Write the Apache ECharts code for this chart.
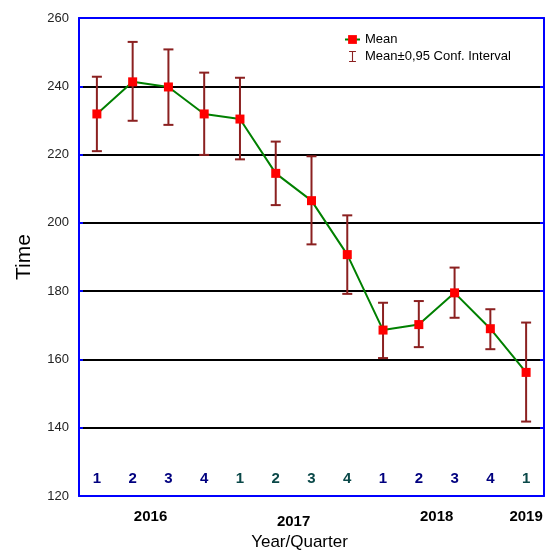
<!DOCTYPE html>
<html><head><meta charset="utf-8">
<script src="https://cdn.jsdelivr.net/npm/echarts@6/dist/echarts.min.js"></script>
<style>html,body{margin:0;padding:0;background:#fff}#c{width:547px;height:556px}</style>
</head><body><div id="c"></div>
<script>
var quarters = ['1','2','3','4','1','2','3','4','1','2','3','4','1'];
var quarterYear = ['2016','2016','2016','2016','2017','2017','2017','2017','2018','2018','2018','2018','2019'];
var means = [231.9, 241.3, 239.8, 231.9, 230.4, 214.5, 206.5, 190.7, 168.6, 170.2, 179.5, 169.0, 156.2];
var upper = [242.8, 253.0, 250.8, 244.0, 242.5, 223.8, 219.5, 202.2, 176.6, 177.1, 186.9, 174.7, 170.8];
var lower = [221.0, 229.9, 228.7, 219.9, 218.6, 205.2, 193.7, 179.2, 160.4, 163.6, 172.2, 163.0, 141.8];
var yearLabels = ['2016', '2017', '2018', '2019'];
var yearPositions = [1.5, 5.5, 9.5, 12];
var yTicks = [120, 140, 160, 180, 200, 220, 240, 260];

var FONT = 'Liberation Sans, Arial, sans-serif';
var BLUE = '#0000ff';
var ERR = '#8b2020';

var chart = echarts.init(document.getElementById('c'), null, {renderer: 'canvas'});
var errData = means.map(function (m, i) { return [i, lower[i], upper[i]]; });

chart.setOption({
  animation: false,
  grid: {left: 79, right: 3, top: 18, bottom: 55, containLabel: false},
  legend: {
    orient: 'vertical', left: 339, top: 28, itemGap: 4,
    itemWidth: 15, itemHeight: 11,
    textStyle: {fontFamily: FONT, fontSize: 13, color: '#000'},
    data: [
      {name: 'Mean'},
      {name: 'Mean\u00b10,95 Conf. Interval',
       icon: 'path://M0,0H10V1.6H5.8V14.4H10V16H0V14.4H4.2V1.6H0Z',
       itemStyle: {color: ERR}}
    ]
  },
  xAxis: [
    {
      type: 'category', data: quarters, position: 'bottom', boundaryGap: true,
      axisLine: {onZero: false, lineStyle: {color: BLUE, width: 2}},
      axisTick: {inside: true, alignWithLabel: true, interval: 0, length: 4, lineStyle: {color: BLUE, width: 2}},
      axisLabel: {
        inside: true, interval: 0, margin: 10, fontFamily: FONT, fontSize: 15, fontWeight: 'bold',
        formatter: function (v, i) { return (quarterYear[i] === '2016' || quarterYear[i] === '2018') ? '{a|' + v + '}' : '{b|' + v + '}'; },
        rich: {
          a: {color: '#00007f', fontFamily: FONT, fontSize: 15, fontWeight: 'bold'},
          b: {color: '#0a4848', fontFamily: FONT, fontSize: 15, fontWeight: 'bold'}
        }
      },
      splitLine: {show: false}
    },
    {
      type: 'category', data: quarters, position: 'top', boundaryGap: true,
      axisLine: {onZero: false, lineStyle: {color: BLUE, width: 2}},
      axisTick: {inside: true, alignWithLabel: true, interval: 0, length: 4, lineStyle: {color: BLUE, width: 2}},
      axisLabel: {show: false}, splitLine: {show: false}
    },
    {
      type: 'value', position: 'bottom', min: -0.5, max: 12.5, interval: 0.5,
      axisLine: {show: false, onZero: false}, axisTick: {show: false}, splitLine: {show: false},
      axisLabel: {
        margin: 13, fontFamily: FONT, fontSize: 15, fontWeight: 'bold', color: '#000',
        showMinLabel: true, showMaxLabel: true,
        formatter: function (v) {
          for (var k = 0; k < yearPositions.length; k++) {
            if (Math.abs(v - yearPositions[k]) < 1e-6) {
              return k === 1 ? '{d|' + yearLabels[k] + '}' : yearLabels[k];
            }
          }
          return '';
        },
        rich: {d: {padding: [5, 0, 0, 0], fontFamily: FONT, fontSize: 15, fontWeight: 'bold', color: '#000'}}
      },
      name: 'Year/Quarter', nameLocation: 'middle', nameGap: 38,
      nameTextStyle: {fontFamily: FONT, fontSize: 17, color: '#000', padding: [0, 24, 0, 0]}
    }
  ],
  yAxis: [
    {
      type: 'value', min: yTicks[0], max: yTicks[yTicks.length - 1], interval: 20, position: 'left',
      axisLine: {show: true, onZero: false, lineStyle: {color: BLUE, width: 2}},
      axisTick: {show: true, inside: true, length: 4, lineStyle: {color: BLUE, width: 2}},
      axisLabel: {margin: 10, fontFamily: FONT, fontSize: 13, color: '#222'},
      splitLine: {show: true, lineStyle: {color: '#000', width: 2}},
      name: 'Time', nameLocation: 'middle', nameGap: 44,
      nameTextStyle: {fontFamily: FONT, fontSize: 21, color: '#000'}
    },
    {
      type: 'value', min: yTicks[0], max: yTicks[yTicks.length - 1], interval: 20, position: 'right',
      axisLine: {show: true, onZero: false, lineStyle: {color: BLUE, width: 2}},
      axisTick: {show: true, inside: true, length: 4, lineStyle: {color: BLUE, width: 2}},
      axisLabel: {show: false}, splitLine: {show: false}
    }
  ],
  series: [
    {
      name: 'Mean\u00b10,95 Conf. Interval', type: 'custom', xAxisIndex: 0, yAxisIndex: 0,
      itemStyle: {color: ERR},
      data: errData, z: 3,
      renderItem: function (params, api) {
        var x = api.value(0);
        var lo = api.coord([x, api.value(1)]);
        var hi = api.coord([x, api.value(2)]);
        var hw = 5;
        var st = {stroke: ERR, lineWidth: 2, fill: null};
        return {
          type: 'group',
          children: [
            {type: 'line', shape: {x1: hi[0], y1: hi[1], x2: lo[0], y2: lo[1]}, style: st},
            {type: 'line', shape: {x1: hi[0] - hw, y1: hi[1], x2: hi[0] + hw, y2: hi[1]}, style: st},
            {type: 'line', shape: {x1: lo[0] - hw, y1: lo[1], x2: lo[0] + hw, y2: lo[1]}, style: st}
          ]
        };
      }
    },
    {
      name: 'Mean', type: 'line', xAxisIndex: 0, yAxisIndex: 0, data: means, z: 4,
      symbol: 'rect', symbolSize: 9, showAllSymbol: true,
      lineStyle: {color: '#008000', width: 2},
      itemStyle: {color: '#ff0000', borderWidth: 0}
    }
  ]
});
</script></body></html>
